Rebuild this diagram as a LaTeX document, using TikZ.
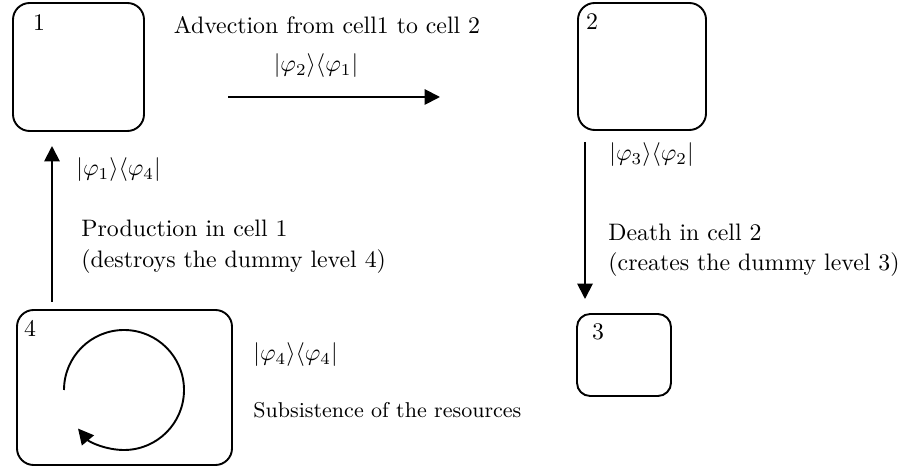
\documentclass[tikz,border=0pt]{standalone}
\usepackage{amsmath}
\usepackage{amssymb}
\usetikzlibrary{arrows.meta}

\newcommand{\pxu}{0.42pt}

\tikzset{
	cell/.style={draw, thick, rounded corners=7pt, inner sep=0pt},
	flow/.style={thick, -{Triangle[length=6.5pt, width=6.5pt]}},
}

\begin{document}
\begin{tikzpicture}[x=\pxu, y=\pxu]
	%\draw[help lines] (0,0) grid (909,-469);
	\useasboundingbox (0,0) rectangle (909,-469);
	\node[cell, minimum width=131*\pxu, minimum height=128*\pxu] (c1) at (78.5,-67) {};
	\node[cell, minimum width=128*\pxu, minimum height=127*\pxu] (c2) at (642,-66.5) {};
	\node[cell, rounded corners=5.5pt, minimum width=94*\pxu, minimum height=82*\pxu] (c3) at (624,-355) {};
	\node[cell, minimum width=215*\pxu, minimum height=155*\pxu] (c4) at (124.5,-387.5) {};
	\node (n1) at (39,-23) {1};
	\node (n2) at (592,-22) {2};
	\node (n3) at (598,-332) {3};
	\node (n4) at (30,-328) {4};
	% arrows
	\coordinate (a1) at (228,-97);
	\coordinate (a2) at (440,-97);
	\draw[flow] (a1) -- (a2);
	\coordinate (p1) at (52,-302);
	\coordinate (p2) at (52,-146);
	\draw[flow] (p1) -- (p2);
	\coordinate (d1) at (585,-142);
	\coordinate (d2) at (585,-299);
	\draw[flow] (d1) -- (d2);
	\draw[flow] (64,-390) arc[start angle=180, end angle=-140, radius=60];
	% labels
	\node (t1) at (327,-25) {Advection from cell1 to cell 2};
	\node (t2) at (316,-66) {$|\varphi_2\rangle\langle\varphi_1|$};
	\node[anchor=west] (t3) at (68,-170) {$|\varphi_1\rangle\langle\varphi_4|$};
	\node[anchor=west] (t4) at (73,-228) {Production in cell 1};
	\node[anchor=west] (t5) at (73,-262) {(destroys the dummy level 4)};
	\node[anchor=west] (t6) at (601,-155) {$|\varphi_3\rangle\langle\varphi_2|$};
	\node[anchor=west] (t7) at (600,-232) {Death in cell 2};
	\node[anchor=west] (t8) at (600,-265) {(creates the dummy level 3)};
	\node[anchor=west] (t9) at (245,-355) {$|\varphi_4\rangle\langle\varphi_4|$};
	\node[anchor=west, font=\small] (t10) at (245,-410) {Subsistence of the resources};
\end{tikzpicture}
\end{document}
